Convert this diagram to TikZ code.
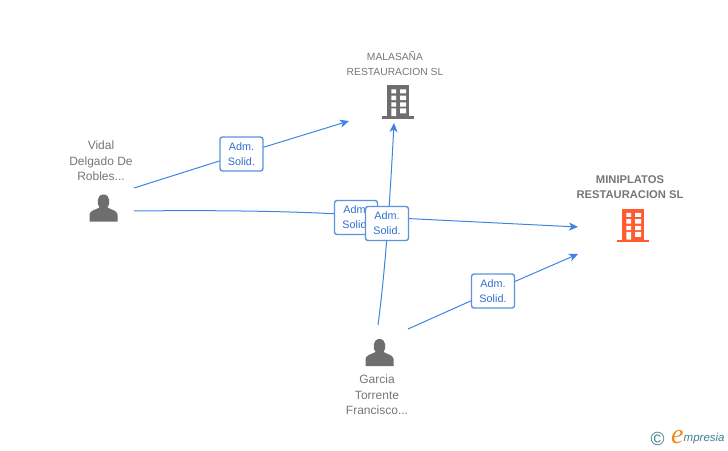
\documentclass[tikz,border=0pt]{standalone}
\usepackage{fontspec}
\setmainfont{Liberation Sans}
\newfontfamily\logoserif{Liberation Serif}
\usetikzlibrary{arrows.meta}
\definecolor{linkblue}{HTML}{3F84E5}
\definecolor{boxblue}{HTML}{5B93DE}
\definecolor{labelblue}{HTML}{2F6FD0}
\definecolor{icongrey}{HTML}{6E6E6E}
\definecolor{textgrey}{HTML}{767676}
\definecolor{orangered}{HTML}{FF5A30}
\definecolor{logoteal}{HTML}{3E7F93}
\definecolor{logoorange}{HTML}{F08A1D}
\tikzset{
  x=1pt,y=-1pt,
  link/.style={draw=linkblue,line width=1pt},
  linkarrow/.style={link,-{Stealth[length=9pt,width=8pt,inset=2.5pt]}},
  admbox/.style={draw=boxblue,line width=1.4pt,rounded corners=2.5pt,fill=white,
    minimum width=43pt,minimum height=34pt,inner sep=0pt,align=center,
    font=\fontsize{10.8}{15}\selectfont,text=labelblue},
  caption/.style={align=center,inner sep=0pt,font=\fontsize{12}{15.3}\selectfont,text=textgrey},
  capitals/.style={align=center,inner sep=0pt,font=\fontsize{10.3}{15}\selectfont,text=textgrey},
  pics/person/.style={code={
    \fill[icongrey] (-14,13) -- (-14,6) .. controls (-14,2) and (-7,1) .. (-4,-1)
      .. controls (-7,-4) and (-7,-14) .. (0,-14) .. controls (7,-14) and (7,-4) .. (4,-1)
      .. controls (7,1) and (14,2) .. (14,6) -- (14,13) -- cycle;
  }},
  pics/building/.style={code={
    \fill[#1] (-11,-17) rectangle (11.3,14);
    \fill[#1] (-16,14) rectangle (16,16.8);
    \fill[white] (-6.7,-12.7) rectangle (-2,-8.7) (2,-12.7) rectangle (8,-8.7)
      (-6.7,-6.3) rectangle (-2,-2) (2,-6.3) rectangle (8,-2)
      (-6.7,0.3) rectangle (-2,4.7) (2,0.3) rectangle (8,4.7)
      (-6.7,6.3) rectangle (-2,14) (2,6.3) rectangle (8,11.3);
  }}
}
\begin{document}
\begin{tikzpicture}
\useasboundingbox (0,0) rectangle (728,450);
% free ends of the connectors
\coordinate (vidalA) at (134,188);
\coordinate (vidalB) at (134,211);
\coordinate (garciaA) at (378,325);
\coordinate (garciaB) at (408,329);
\coordinate (malaA) at (349,121);
\coordinate (malaB) at (394,123);
\coordinate (miniA) at (578,227);
\coordinate (miniB) at (578,254);
\coordinate (bend) at (387,217.5);
\coordinate (lab1) at (241.5,154);
\coordinate (lab2) at (356,217.5);
\coordinate (lab3) at (387,223.5);
\coordinate (lab4) at (493,291);
% connectors
\draw[linkarrow] (vidalA) -- (lab1) -- (malaA);
\draw[link] (vidalB) .. controls (220,210) and (320,211) .. (bend);
\draw[linkarrow] (bend) -- (miniA);
\draw[linkarrow] (garciaA) .. controls (384,280) and (389,220) .. (malaB);
\draw[linkarrow] (garciaB) -- (lab4) -- (miniB);
% edge labels
\node[admbox] (adm1) at (lab1) {Adm.\\Solid.};
\node[admbox] (adm2) at (lab2) {Adm.\\Solid.};
\node[admbox] (adm3) at (lab3) {Adm.\\Solid.};
\node[admbox] (adm4) at (lab4) {Adm.\\Solid.};
% entities
\node[capitals] (mala) at (395,63.5) {MALASAÑA\\RESTAURACION SL};
\pic at (398,102) {building=icongrey};
\node[capitals,font=\fontsize{11.2}{15}\selectfont\bfseries] (mini) at (630,187.5) {MINIPLATOS\\RESTAURACION SL};
\pic at (633,225.5) {building=orangered};
\node[caption] (vidal) at (101,161) {Vidal\\Delgado De\\Robles...};
\pic at (103.5,208.5) {person};
\node[caption] (garcia) at (377,395) {Garcia\\Torrente\\Francisco...};
\pic at (379.5,353) {person};
% logo
\node[inner sep=0pt,text=logoteal,font=\fontsize{19}{19}\selectfont] (copy) at (657.5,438.5) {©};
\node[inner sep=0pt,anchor=west,text=logoorange,font=\logoserif\fontsize{28}{28}\selectfont\itshape] (elogo) at (671,437.5) {e};
\node[inner sep=0pt,anchor=west,text=logoteal,font=\fontsize{11.5}{13}\selectfont\itshape] (brand) at (683.5,439) {mpresia};
\end{tikzpicture}
\end{document}
